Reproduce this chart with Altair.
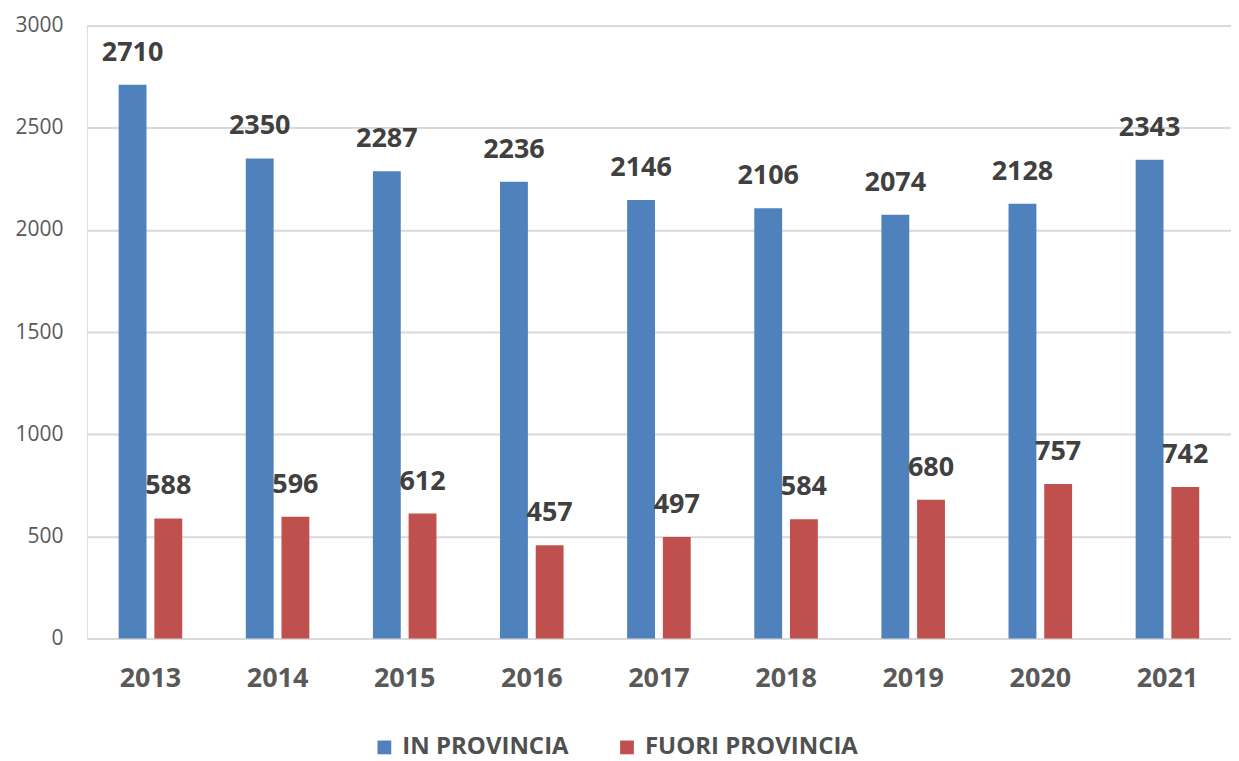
import altair as alt
import pandas as pd

years = ["2013", "2014", "2015", "2016", "2017", "2018", "2019", "2020", "2021"]
in_provincia = [2710, 2350, 2287, 2236, 2146, 2106, 2074, 2128, 2343]
fuori_provincia = [588, 596, 612, 457, 497, 584, 680, 757, 742]
series = ["IN PROVINCIA", "FUORI PROVINCIA"]
colors = ["#4f81bd", "#c0504d"]
y_ticks = [0, 500, 1000, 1500, 2000, 2500, 3000]

rows = []
for i, yr in enumerate(years):
    rows.append({"year": yr, "serie": series[0], "value": in_provincia[i]})
    rows.append({"year": yr, "serie": series[1], "value": fuori_provincia[i]})
df = pd.DataFrame(rows)

FONT = "Open Sans"

x = alt.X("year:N", sort=years, title=None,
          scale=alt.Scale(paddingInner=0.5, paddingOuter=0.25),
          axis=alt.Axis(labelAngle=0, labelFontSize=27, labelFontWeight="bold",
                        labelColor="#595959", labelFont=FONT, ticks=False,
                        domain=False, labelPadding=27))
xo = alt.XOffset("serie:N", sort=series, scale=alt.Scale(paddingInner=0.22, paddingOuter=0))
y = alt.Y("value:Q", title=None,
          scale=alt.Scale(domain=[0, 3000], nice=False),
          axis=alt.Axis(values=y_ticks, format="d", labelFontSize=21, labelColor="#595959",
                        labelFont=FONT, ticks=False, domain=False, labelPadding=24,
                        gridColor="#d9d9d9", gridWidth=2))
color = alt.Color("serie:N", sort=series,
                  scale=alt.Scale(domain=series, range=colors),
                  legend=alt.Legend(title=None, orient="none", direction="horizontal",
                                    legendX=286, legendY=711,
                                    symbolType="square", symbolSize=190,
                                    labelFontSize=24, labelFont=FONT, labelColor="#505050",
                                    labelFontWeight="bold", columnPadding=46,
                                    labelOffset=6, labelLimit=0,
                                    symbolStrokeWidth=0))

bars = alt.Chart(df).mark_bar().encode(x=x, xOffset=xo, y=y, color=color)
labels = alt.Chart(df).mark_text(dy=-18, baseline="bottom", fontSize=27, fontWeight="bold",
                                 font=FONT, color="#404040").encode(
    x=x, xOffset=xo, y=y, text="value:Q")

chart = (bars + labels).properties(width=1146, height=614,
                                   padding={"left": 6, "top": 6, "right": 0, "bottom": 0}
).configure_view(stroke=None).configure(background="white")

chart.save("out.html", embed_options={"renderer": "svg", "actions": False})
